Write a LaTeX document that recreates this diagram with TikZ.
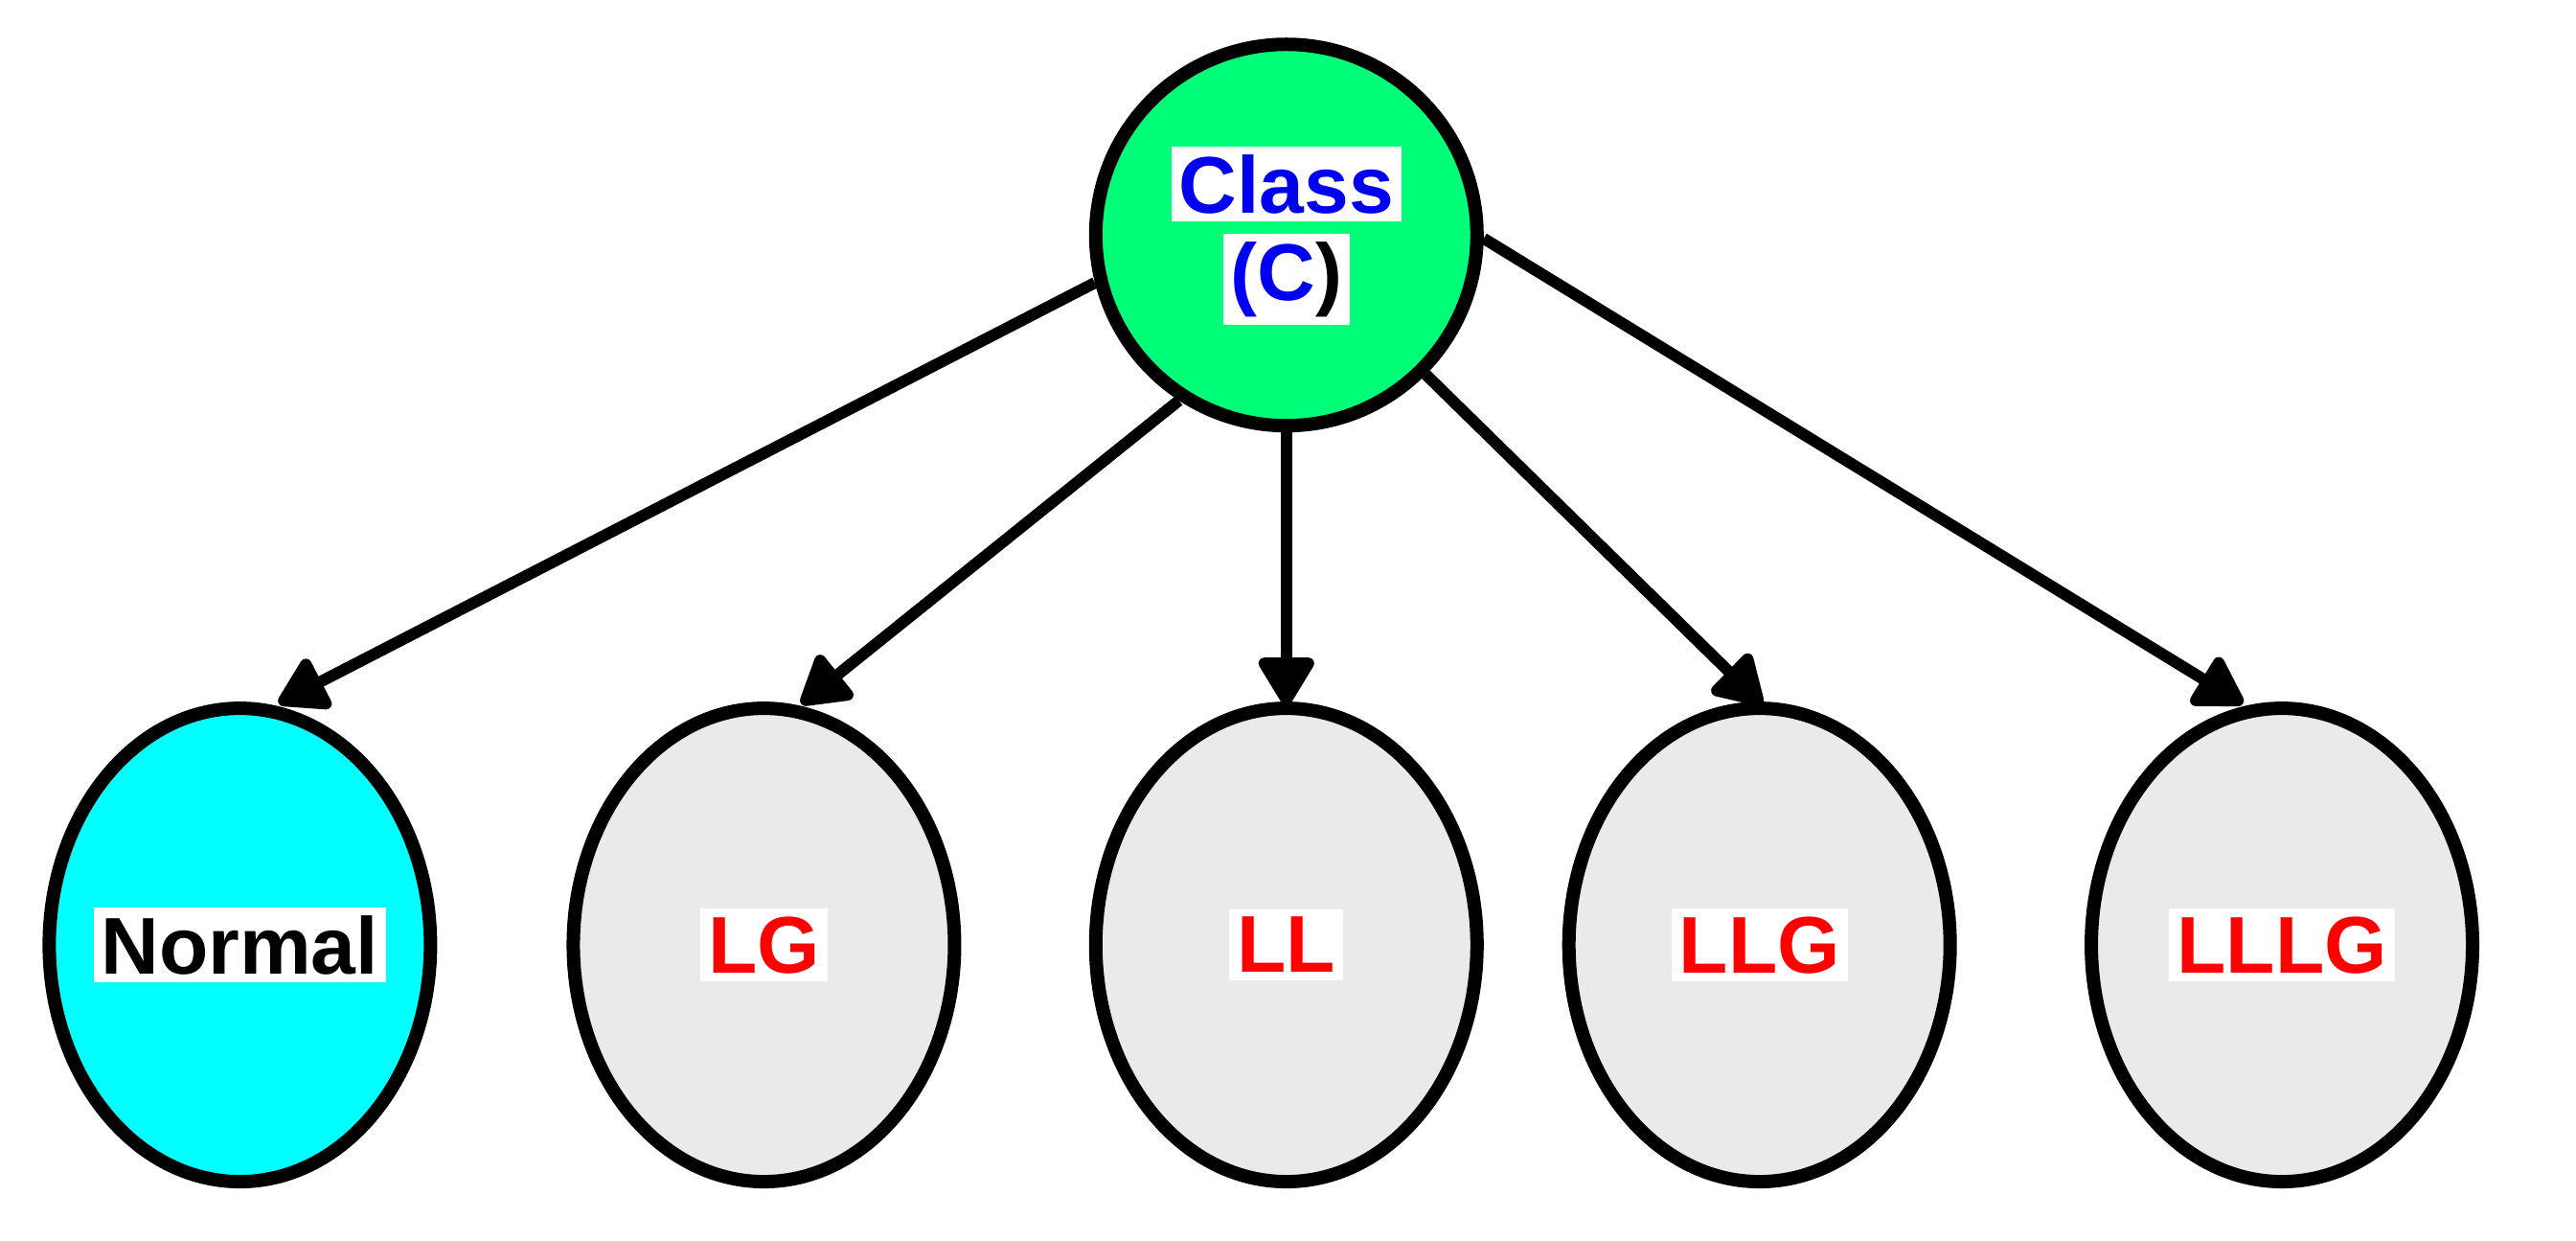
\documentclass[tikz,border=0pt]{standalone}
\usepackage{fontspec}
\setmainfont{Liberation Sans}
\usetikzlibrary{arrows.meta,shapes.geometric}
\definecolor{cgreen}{RGB}{0,255,120}
\definecolor{ccyan}{RGB}{0,255,255}
\definecolor{cgray}{RGB}{234,234,234}
\definecolor{cblue}{RGB}{0,0,240}
\definecolor{cred}{RGB}{255,0,0}
\begin{document}
\begin{tikzpicture}[x=0.8575pt,y=-0.8575pt,
  el/.style={draw=black,line width=7pt,ellipse,minimum width=199pt,minimum height=247pt,inner sep=0pt},
  lab/.style={fill=white,font=\fontsize{42pt}{46pt}\selectfont\bfseries,inner sep=4pt},
  arr/.style={line width=6pt,-{Triangle[length=28pt,width=32pt,round]},shorten >=-2pt}]
\useasboundingbox (0,0) rectangle (1568,755);
\node[draw=black,line width=7pt,circle,fill=cgreen,minimum size=199pt,inner sep=0pt] (c) at (783,143) {};
\node[lab,text=cblue] (t1) at (783,112) {Class};
\node[lab] (t2) at (783,170) {\textcolor{cblue}{(C}\textcolor{black}{)}};
\node[el,fill=ccyan] (n1) at (146,575) {};
\node[el,fill=cgray] (n2) at (465,575) {};
\node[el,fill=cgray] (n3) at (783,575) {};
\node[el,fill=cgray] (n4) at (1071,575) {};
\node[el,fill=cgray] (n5) at (1389,575) {};
\node[lab,text=black] at (n1) {Normal};
\node[lab,text=cred] at (n2) {LG};
\node[lab,text=cred] at (n3) {LL};
\node[lab,text=cred] at (n4) {LLG};
\node[lab,text=cred] at (n5) {LLLG};
\draw[arr] (c.194) -- ([xshift=22pt]n1.north);
\draw[arr] (c.237) -- ([xshift=21pt]n2.north);
\draw[arr] (c.south) -- (n3.north);
\draw[arr] (c.-45) -- (n4.north);
\draw[arr] (c.-1) -- ([xshift=-22pt]n5.north);
\end{tikzpicture}
\end{document}
